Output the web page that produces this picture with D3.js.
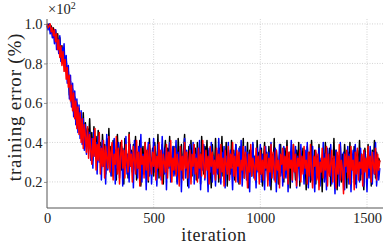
<!DOCTYPE html>
<html>
<head>
<meta charset="utf-8">
<script src="https://cdn.jsdelivr.net/npm/d3@7"></script>
<style>
  body { margin: 0; background: #fff; }
</style>
</head>
<body>
<div id="chart"></div>
<script>
// sampled every 5 iterations (0 .. 1560), error as fraction (x10^2 %)
let step = 5;
let blackErr = [
  1.00,0.99,1.00,0.98,0.99,0.96,0.98,0.94,0.97,0.92,0.95,0.88,0.93,0.85,0.89,0.80,0.86,0.78,0.82,0.73,
  0.76,0.64,0.71,0.60,0.67,0.55,0.63,0.52,0.60,0.48,0.57,0.45,0.53,0.42,0.55,0.40,0.50,0.38,0.47,0.41,
  0.52,0.35,0.45,0.31,0.48,0.37,0.43,0.29,0.46,0.33,0.40,0.27,0.44,0.34,0.39,0.24,0.42,0.30,0.47,0.28,
  0.38,0.23,0.41,0.32,0.36,0.21,0.44,0.29,0.35,0.40,0.26,0.37,0.19,0.42,0.31,0.34,0.22,0.45,0.28,0.36,
  0.25,0.39,0.30,0.43,0.21,0.35,0.27,0.41,0.18,0.33,0.38,0.24,0.40,0.29,0.36,0.20,0.42,0.31,0.26,0.37,
  0.23,0.40,0.32,0.27,0.44,0.22,0.35,0.29,0.39,0.19,0.34,0.41,0.25,0.37,0.30,0.43,0.21,0.33,0.28,0.38,
  0.24,0.36,0.20,0.42,0.31,0.27,0.39,0.22,0.35,0.44,0.26,0.33,0.18,0.38,0.29,0.41,0.23,0.34,0.30,0.37,
  0.21,0.40,0.27,0.35,0.19,0.43,0.30,0.24,0.38,0.32,0.41,0.22,0.36,0.28,0.17,0.39,0.31,0.26,0.42,0.25,
  0.34,0.20,0.37,0.29,0.43,0.23,0.33,0.27,0.40,0.18,0.35,0.30,0.24,0.41,0.28,0.36,0.21,0.39,0.26,0.32,
  0.19,0.38,0.30,0.25,0.42,0.22,0.34,0.28,0.40,0.17,0.36,0.31,0.23,0.39,0.27,0.33,0.20,0.41,0.29,0.35,
  0.24,0.37,0.18,0.32,0.40,0.26,0.35,0.21,0.38,0.29,0.16,0.34,0.27,0.42,0.23,0.36,0.30,0.19,0.33,0.39,
  0.25,0.31,0.20,0.37,0.28,0.41,0.22,0.35,0.17,0.33,0.26,0.39,0.30,0.21,0.36,0.27,0.40,0.18,0.34,0.29,
  0.37,0.23,0.32,0.16,0.38,0.27,0.35,0.20,0.41,0.29,0.24,0.36,0.19,0.33,0.28,0.39,0.22,0.31,0.15,0.35,
  0.26,0.40,0.21,0.34,0.29,0.37,0.18,0.32,0.25,0.42,0.23,0.36,0.16,0.30,0.27,0.38,0.20,0.34,0.24,0.39,
  0.29,0.17,0.35,0.26,0.40,0.22,0.33,0.28,0.38,0.19,0.31,0.36,0.24,0.41,0.21,0.34,0.27,0.16,0.37,0.30,
  0.23,0.39,0.26,0.33,0.18,0.36,0.29,0.41,0.22,0.35,0.27,0.32,0.30
];
let blueErr = [
  0.99,0.97,1.00,0.95,0.98,0.93,0.96,0.90,0.97,0.87,0.92,0.85,0.94,0.81,0.88,0.83,0.90,0.76,0.84,0.70,
  0.79,0.62,0.74,0.58,0.70,0.53,0.66,0.49,0.62,0.45,0.59,0.42,0.56,0.39,0.52,0.36,0.49,0.34,0.46,0.38,
  0.45,0.31,0.42,0.27,0.46,0.33,0.40,0.24,0.43,0.30,0.38,0.21,0.41,0.28,0.36,0.19,0.44,0.26,0.39,0.32,
  0.23,0.37,0.29,0.42,0.19,0.35,0.27,0.40,0.22,0.33,0.38,0.18,0.36,0.30,0.43,0.24,0.34,0.20,0.39,0.28,
  0.35,0.17,0.41,0.26,0.32,0.22,0.38,0.29,0.44,0.20,0.34,0.27,0.37,0.16,0.33,0.40,0.23,0.36,0.19,0.31,
  0.42,0.25,0.33,0.18,0.39,0.28,0.36,0.21,0.43,0.30,0.24,0.37,0.16,0.35,0.27,0.40,0.20,0.32,0.38,0.23,
  0.31,0.41,0.19,0.35,0.26,0.38,0.15,0.33,0.29,0.42,0.22,0.36,0.27,0.17,0.39,0.30,0.24,0.40,0.19,0.34,
  0.28,0.37,0.22,0.41,0.16,0.33,0.26,0.39,0.21,0.35,0.29,0.15,0.37,0.25,0.40,0.20,0.33,0.28,0.18,0.36,
  0.24,0.42,0.27,0.19,0.35,0.30,0.38,0.17,0.33,0.25,0.40,0.21,0.36,0.28,0.16,0.34,0.23,0.39,0.29,0.20,
  0.37,0.26,0.41,0.18,0.32,0.24,0.38,0.21,0.35,0.29,0.15,0.36,0.27,0.40,0.22,0.33,0.17,0.37,0.25,0.31,
  0.39,0.20,0.34,0.26,0.16,0.38,0.29,0.22,0.35,0.18,0.40,0.27,0.33,0.21,0.37,0.15,0.31,0.25,0.39,0.23,
  0.34,0.18,0.38,0.27,0.22,0.36,0.15,0.32,0.29,0.41,0.20,0.35,0.25,0.38,0.17,0.33,0.28,0.21,0.39,0.26,
  0.30,0.19,0.36,0.24,0.40,0.17,0.33,0.27,0.21,0.38,0.25,0.15,0.35,0.29,0.22,0.37,0.18,0.32,0.26,0.40,
  0.20,0.34,0.16,0.37,0.28,0.23,0.39,0.19,0.31,0.26,0.14,0.36,0.24,0.33,0.18,0.40,0.27,0.21,0.35,0.16,
  0.32,0.25,0.38,0.19,0.34,0.15,0.30,0.36,0.22,0.39,0.17,0.33,0.26,0.20,0.37,0.24,0.31,0.18,0.35,0.28,
  0.15,0.33,0.22,0.38,0.26,0.19,0.35,0.24,0.40,0.18,0.31,0.21,0.27
];
let redErr = [
  1.00,0.98,0.99,1.00,0.96,0.98,0.94,0.97,0.91,0.95,0.87,0.92,0.83,0.89,0.79,0.86,0.76,0.82,0.72,0.78,
  0.68,0.74,0.61,0.69,0.56,0.65,0.52,0.61,0.47,0.58,0.44,0.55,0.40,0.52,0.37,0.49,0.43,0.35,0.48,0.32,
  0.44,0.36,0.29,0.42,0.33,0.47,0.26,0.39,0.31,0.45,0.24,0.37,0.28,0.41,0.22,0.38,0.32,0.27,0.43,0.25,
  0.35,0.40,0.21,0.34,0.29,0.43,0.24,0.37,0.19,0.33,0.41,0.27,0.36,0.22,0.39,0.30,0.25,0.44,0.28,0.34,
  0.20,0.38,0.31,0.24,0.41,0.27,0.35,0.18,0.37,0.29,0.33,0.22,0.40,0.26,0.36,0.21,0.39,0.30,0.24,0.35,
  0.28,0.38,0.21,0.33,0.27,0.40,0.23,0.36,0.19,0.34,0.30,0.25,0.39,0.22,0.35,0.28,0.41,0.20,0.32,0.26,
  0.37,0.23,0.34,0.29,0.18,0.38,0.26,0.33,0.21,0.40,0.27,0.35,0.22,0.31,0.36,0.19,0.34,0.28,0.39,0.24,
  0.32,0.20,0.37,0.27,0.34,0.23,0.41,0.29,0.22,0.36,0.26,0.33,0.19,0.38,0.28,0.35,0.24,0.31,0.21,0.37,
  0.27,0.34,0.22,0.39,0.25,0.32,0.18,0.36,0.29,0.24,0.38,0.21,0.34,0.27,0.40,0.23,0.33,0.20,0.36,0.28,
  0.35,0.19,0.31,0.26,0.38,0.22,0.35,0.29,0.17,0.34,0.25,0.39,0.23,0.32,0.28,0.21,0.37,0.26,0.33,0.19,
  0.36,0.24,0.31,0.21,0.38,0.27,0.34,0.18,0.32,0.25,0.39,0.22,0.35,0.28,0.20,0.36,0.26,0.31,0.17,0.34,
  0.29,0.37,0.22,0.33,0.26,0.38,0.19,0.35,0.27,0.31,0.21,0.39,0.25,0.34,0.18,0.32,0.28,0.36,0.20,0.33,
  0.24,0.38,0.27,0.31,0.19,0.35,0.23,0.39,0.26,0.17,0.33,0.28,0.36,0.21,0.34,0.16,0.30,0.25,0.37,0.22,
  0.32,0.26,0.38,0.18,0.34,0.23,0.29,0.36,0.20,0.33,0.27,0.17,0.35,0.24,0.39,0.21,0.31,0.26,0.14,0.34,
  0.28,0.36,0.22,0.33,0.19,0.38,0.26,0.31,0.16,0.35,0.24,0.37,0.21,0.30,0.27,0.34,0.18,0.36,0.25,0.32,
  0.22,0.38,0.27,0.33,0.20,0.35,0.29,0.24,0.37,0.21,0.34,0.26,0.31
];
let xTicks = [0, 500, 1000, 1500];
let yTicks = [0.2, 0.4, 0.6, 0.8, 1.0];

let width = 386, height = 249;
let margin = {top: 19, right: 3, bottom: 41, left: 47};
let font = "'Liberation Serif'";

let svg = d3.select('#chart').append('svg').attr('width', width).attr('height', height);

let xScale = d3.scaleLinear().domain([0, 1575]).range([margin.left, width - margin.right]);
let yScale = d3.scaleLinear().domain([0.068, 1.025]).range([height - margin.bottom, margin.top]);

// grid
let grid = svg.append('g');
grid.selectAll('line.gy').data(yTicks).enter().append('line')
  .attr('x1', margin.left).attr('x2', width - margin.right)
  .attr('y1', d => yScale(d)).attr('y2', d => yScale(d))
  .attr('stroke', '#c8c8c8').attr('stroke-width', 0.8).attr('stroke-dasharray', '1,1.5');
grid.selectAll('line.gx').data(xTicks.slice(1)).enter().append('line')
  .attr('y1', margin.top).attr('y2', height - margin.bottom)
  .attr('x1', d => xScale(d)).attr('x2', d => xScale(d))
  .attr('stroke', '#c8c8c8').attr('stroke-width', 0.8).attr('stroke-dasharray', '1,1.5');

let line = d3.line()
  .x((d, i) => xScale(i * step))
  .y(d => yScale(d));

let series = [
  {vals: blackErr, color: 'black'},
  {vals: blueErr, color: 'blue'},
  {vals: redErr, color: 'red'}
];
svg.append('g').selectAll('path')
  .data(series).enter().append('path')
  .attr('d', d => line(d.vals))
  .attr('fill', 'none')
  .attr('stroke', d => d.color)
  .attr('stroke-width', 1.5)
  .attr('stroke-linejoin', 'round');

// axes
let xAxis = d3.axisBottom(xScale).tickValues(xTicks).tickSize(0).tickPadding(5).tickFormat(d3.format('d'));
let yAxis = d3.axisLeft(yScale).tickValues(yTicks).tickSize(3).tickPadding(1.5).tickFormat(d3.format('.1f'));

let gx = svg.append('g').attr('transform', 'translate(0,' + (height - margin.bottom) + ')').call(xAxis);
let gy = svg.append('g').attr('transform', 'translate(' + margin.left + ',0)').call(yAxis);
[gx, gy].forEach(g => {
  g.select('.domain').attr('stroke', '#555').attr('stroke-width', 1);
  g.selectAll('.tick line').attr('stroke', '#777').attr('stroke-width', 0.8);
  g.selectAll('text').attr('font-size', 14.5).style('font-family', font).attr('fill', '#222');
});
gx.select('.domain').attr('d', 'M' + margin.left + ',0H' + (width - margin.right));
gy.select('.domain').attr('d', 'M0,' + margin.top + 'V' + (height - margin.bottom));

let mult = svg.append('text').attr('x', 48).attr('y', 14).attr('font-size', 14.5)
  .style('font-family', font).attr('fill', '#222').text('\u00d710');
mult.append('tspan').attr('dy', -5).attr('font-size', 10).text('2');

svg.append('text').attr('x', 214).attr('y', 241).attr('text-anchor', 'middle')
  .attr('font-size', 18).style('font-family', font).style('letter-spacing', '0.6px')
  .attr('fill', '#222').text('iteration');
svg.append('text').attr('transform', 'translate(21,107) rotate(-90)')
  .attr('text-anchor', 'middle').attr('font-size', 19).style('font-family', font)
  .style('letter-spacing', '0.8px').attr('fill', '#222').text('training error (%)');
</script>
</body>
</html>
